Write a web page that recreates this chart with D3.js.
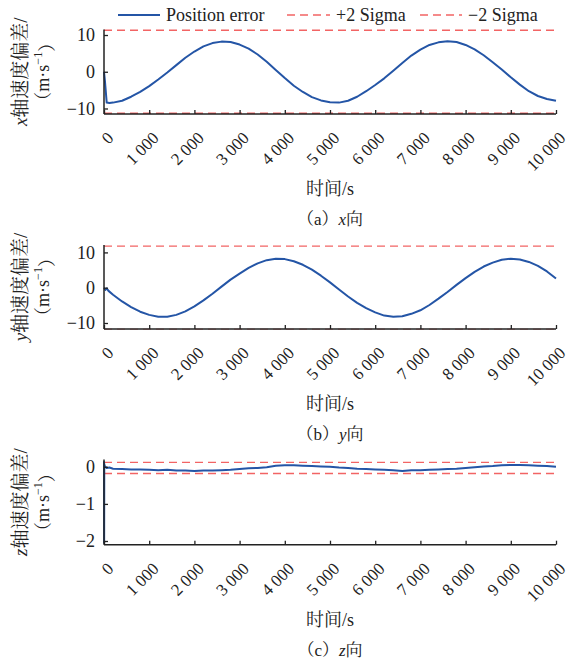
<!DOCTYPE html>
<html><head><meta charset="utf-8">
<script src="https://cdn.jsdelivr.net/npm/d3@7"></script>
<style>
html,body{margin:0;padding:0;background:#fff;}
svg{display:block;}
text{font-family:"Liberation Serif","Times New Roman",serif;fill:#222;}
.cjk{font-family:"Liberation Serif","Noto Serif CJK SC","Noto Sans CJK SC",serif;}
</style></head>
<body>
<svg id="chart" width="580" height="665"></svg>
<script>
// ---------- data ----------
const timeGrid = [200,400,600,800,1000,1200,1400,1600,1800,2000,2200,2400,2600,2800,3000,3200,3400,3600,3800,4000,
  4200,4400,4600,4800,5000,5200,5400,5600,5800,6000,6200,6400,6600,6800,7000,7200,7400,7600,7800,8000,
  8200,8400,8600,8800,9000,9200,9400,9600,9800,10000];

// x-direction velocity error (m/s)
const xHeadTime = [0, 20, 60, 120];
const xHeadErr  = [0, -2.5, -8.4, -8.5];
const xErr = [-8.4,-7.9,-6.8,-5.5,-3.9,-2.1,-0.2,1.8,3.8,5.5,6.9,7.8,8.2,8.1,7.4,6.3,4.7,2.7,0.5,-1.7,
  -3.8,-5.5,-6.9,-7.8,-8.3,-8.4,-7.9,-6.8,-5.3,-3.6,-1.8,0.3,2.4,4.4,6.0,7.3,8.0,8.3,8.1,7.3,
  6.1,4.5,2.6,0.6,-1.5,-3.5,-5.3,-6.6,-7.4,-7.9];

// y-direction velocity error (m/s)
const yHeadTime = [0, 30, 60, 100];
const yHeadErr  = [0, -0.6, -0.2, -0.9];
const yErr = [-2.0,-3.9,-5.5,-6.8,-7.7,-8.2,-8.2,-7.7,-6.7,-5.3,-3.6,-1.7,0.3,2.3,4.0,5.6,6.9,7.8,8.2,8.1,
  7.5,6.5,5.1,3.4,1.5,-0.5,-2.5,-4.3,-5.8,-7.0,-7.9,-8.2,-8.1,-7.4,-6.4,-4.9,-3.1,-1.2,0.8,2.7,
  4.5,6.0,7.1,7.9,8.2,8.0,7.3,6.2,4.6,2.6];

// z-direction velocity error (m/s)
const zHeadTime = [0, 3, 6, 15, 60, 120];
const zHeadErr  = [0.15, -2.05, 0.08, 0.02, -0.03, -0.02];
const zErr = [-0.05,-0.06,-0.07,-0.07,-0.08,-0.09,-0.08,-0.10,-0.10,-0.11,-0.10,-0.10,-0.09,-0.08,-0.06,-0.04,-0.03,-0.01,0.03,0.04,
  0.04,0.03,0.02,0.01,0.00,-0.02,-0.03,-0.05,-0.06,-0.07,-0.08,-0.09,-0.11,-0.09,-0.09,-0.08,-0.07,-0.06,-0.05,-0.03,
  -0.01,0.01,0.02,0.04,0.05,0.05,0.04,0.03,0.02,0.00];

const sigmaPlus  = [11.3, 11.8, 0.12];
const sigmaMinus = [-11.3, -11.8, -0.18];
const yDomains = [[-11.5, 11.5], [-11.7, 12.1], [-2.1, 0.2]];
const yTickValues = [[-10, 0, 10], [-10, 0, 10], [-2, -1, 0]];
const xTickValues = [0,1000,2000,3000,4000,5000,6000,7000,8000,9000,10000];
const xTickLabels = ["0","1 000","2 000","3 000","4 000","5 000","6 000","7 000","8 000","9 000","10 000"];
const axisLetters = ["x","y","z"];
const captionLetters = ["a","b","c"];
const legendLabels = ["Position error", "+2 Sigma", "\u22122 Sigma"];

// ---------- layout ----------
const blue = "#2455a6", red = "#f26464", axisCol = "#222";
const plotLeft = 104, plotRight = 556;
const panelBox = [[29.5, 114], [245, 329], [459.4, 544.7]];

const svg = d3.select("#chart");
const x = d3.scaleLinear().domain([0, 10000]).range([plotLeft, plotRight]);

const series = [
  xHeadTime.map((t,i)=>[t,xHeadErr[i]]).concat(timeGrid.map((t,i)=>[t,xErr[i]])),
  yHeadTime.map((t,i)=>[t,yHeadErr[i]]).concat(timeGrid.map((t,i)=>[t,yErr[i]])),
  zHeadTime.map((t,i)=>[t,zHeadErr[i]]).concat(timeGrid.map((t,i)=>[t,zErr[i]]))
];

// legend
const lg = svg.append("g").attr("transform","translate(0,15)");
const legendX = [[118,160,166],[287,330,336],[420,462,468]];
legendLabels.forEach((lab,i)=>{
  const [x1,x2,tx] = legendX[i];
  lg.append("line").attr("x1",x1).attr("x2",x2).attr("y1",0).attr("y2",0)
    .attr("stroke", i===0?blue:red).attr("stroke-width", i===0?1.8:1.3)
    .attr("stroke-dasharray", i===0?null:"8,5");
  lg.append("text").attr("x",tx).attr("y",0).attr("dy","0.35em")
    .attr("font-size",18).text(lab);
});

panelBox.forEach(([top,bottom],p)=>{
  const y = d3.scaleLinear().domain(yDomains[p]).range([bottom, top]);
  const g = svg.append("g");
  const clipId = "clip"+p;
  svg.append("clipPath").attr("id",clipId).append("rect")
    .attr("x",plotLeft).attr("y",top-1).attr("width",plotRight-plotLeft+1).attr("height",bottom-top+1.5);

  // sigma lines
  [sigmaPlus[p], sigmaMinus[p]].forEach(s=>{
    g.append("line").attr("clip-path",`url(#${clipId})`)
      .attr("x1",plotLeft).attr("x2",plotRight).attr("y1",y(s)).attr("y2",y(s))
      .attr("stroke",red).attr("stroke-width",1.3).attr("stroke-dasharray","8,5");
  });

  // data line
  g.append("path").datum(series[p])
    .attr("fill","none").attr("stroke",blue).attr("stroke-width",2)
    .attr("stroke-linejoin","round")
    .attr("d", d3.line().x(d=>x(d[0])).y(d=>y(d[1])));

  // y axis
  const ya = g.append("g").attr("transform",`translate(${plotLeft},0)`)
    .call(d3.axisLeft(y).tickValues(yTickValues[p]).tickSize(-4).tickPadding(9)
      .tickFormat(v=> v<0 ? "\u2212"+Math.abs(v) : String(v)));
  ya.select(".domain").attr("stroke",axisCol).attr("stroke-width",1.5).attr("d",`M0,${top}V${bottom}`);
  ya.selectAll(".tick line").attr("stroke",axisCol).attr("stroke-width",1.3);
  ya.selectAll("text").attr("font-size",18).attr("font-family","'Liberation Serif',serif").attr("fill","#222");

  // x axis
  const xa = g.append("g").attr("transform",`translate(0,${bottom})`)
    .call(d3.axisBottom(x).tickValues(xTickValues).tickSize(-4)
      .tickFormat((d,i)=>xTickLabels[i]));
  xa.select(".domain").attr("stroke",axisCol).attr("stroke-width",1.5).attr("d",`M${plotLeft},0H${plotRight}`);
  xa.selectAll(".tick line").attr("stroke",axisCol).attr("stroke-width",1.3);
  xa.selectAll("text").attr("font-size",17).attr("font-family","'Liberation Serif',serif").attr("fill","#222")
    .attr("text-anchor","end").attr("x",0).attr("y",0).attr("dy",0)
    .attr("transform","translate(10,25) rotate(-45)");

  // x axis title
  svg.append("text").attr("class","cjk").attr("x",(plotLeft+plotRight)/2).attr("y",bottom+75)
    .attr("dy","0.35em").attr("text-anchor","middle").attr("font-size",18).text("时间/s");

  // caption
  const cap = svg.append("text").attr("class","cjk").attr("x",(plotLeft+plotRight)/2).attr("y",bottom+105)
    .attr("dy","0.35em").attr("text-anchor","middle").attr("font-size",17);
  cap.append("tspan").text("（"+captionLetters[p]+"）");
  cap.append("tspan").attr("font-style","italic").text(axisLetters[p]);
  cap.append("tspan").text("向");

  // y axis title (two lines)
  const cy = (top+bottom)/2;
  const t1 = svg.append("text").attr("class","cjk").attr("transform",`translate(20,${cy}) rotate(-90)`)
    .attr("text-anchor","middle").attr("dy","0.35em").attr("font-size",19);
  t1.append("tspan").attr("font-style","italic").text(axisLetters[p]);
  t1.append("tspan").text("轴速度偏差/");
  const t2 = svg.append("text").attr("class","cjk").attr("transform",`translate(43,${cy}) rotate(-90)`)
    .attr("text-anchor","middle").attr("dy","0.35em").attr("font-size",18);
  t2.append("tspan").text("（m·s");
  t2.append("tspan").attr("font-size",12).attr("dy","-0.6em").text("\u22121");
  t2.append("tspan").attr("dy","0.6em").text("）");
});
</script>
</body></html>
